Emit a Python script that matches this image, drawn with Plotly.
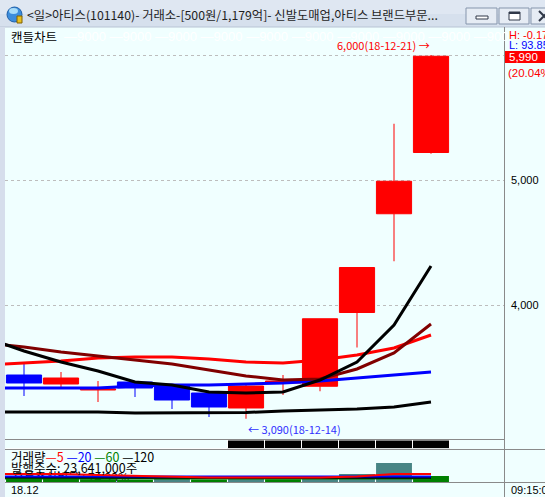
import plotly.graph_objects as go

W, H = 545, 497

# ---------------- data ----------------
dates = ["18-12-05", "18-12-06", "18-12-07", "18-12-10", "18-12-11", "18-12-12", "18-12-13",
         "18-12-14", "18-12-17", "18-12-18", "18-12-19", "18-12-20", "18-12-21"]
candle_dates = dates[1:]
opens  = [3440, 3368, 3320, 3384, 3360, 3296, 3176, 3376, 3350, 3940, 4730, 5220]
highs  = [3528, 3464, 3392, 3392, 3368, 3304, 3368, 3440, 3890, 4300, 5450, 6000]
lows   = [3272, 3344, 3224, 3264, 3168, 3104, 3090, 3280, 3310, 3660, 4350, 5210]
closes = [3376, 3416, 3328, 3336, 3240, 3184, 3352, 3392, 3890, 4300, 4990, 5990]

# price moving averages (one value per date, incl. the day before the first candle)
ma_black  = [3736, 3632, 3544, 3472, 3384, 3360, 3304, 3296, 3304, 3400, 3544, 3840, 4312]
ma_maroon = [3696, 3664, 3624, 3592, 3560, 3528, 3480, 3432, 3400, 3408, 3488, 3616, 3848]
ma_red    = [3520, 3536, 3552, 3576, 3584, 3584, 3568, 3544, 3536, 3560, 3600, 3656, 3760]
ma_blue   = [3336, 3336, 3336, 3336, 3352, 3360, 3360, 3368, 3376, 3392, 3416, 3440, 3464]
ma_low    = [3144, 3144, 3144, 3144, 3136, 3136, 3136, 3140, 3152, 3160, 3168, 3184, 3224]

# signal row (black band)
signal = [0, 0, 0, 0, 0, 0, 1, 1, 1, 1, 1, 1]

# volume
volume = [320000, 300000, 280000, 220000, 400000, 250000, 300000, 280000,
          600000, 800000, 1900000, 600000]
vma5   = [800000, 800000, 800000, 700000, 600000, 500000, 450000, 450000, 450000, 450000, 550000, 800000, 800000]
vma20  = [560000, 560000, 550000, 540000, 530000, 520000, 500000, 500000, 490000, 490000, 500000, 520000, 540000]
vma60  = [350000] * 13
vma120 = [460000, 460000, 460000, 455000, 450000, 450000, 450000, 445000, 440000, 430000, 420000, 420000, 420000]

price_ticks = [4000, 5000, 6000]
price_ticktext = ["4,000", "5,000", ""]

title_text = "&lt;일&gt;아티스(101140)- 거래소-[500원/1,179억]- 신발도매업,아티스 브랜드부문..."
shares_text = "발행주수: 23,641,000주"
float_text = "유통주식비율 : 74.93%"
last_price = closes[-1]
change_pct = (closes[-1] - closes[-2]) / closes[-2] * 100

# ---------------- helpers ----------------
def fx(px):
    return px / W

def fy(py):
    return 1 - py / H

FONT_K = "Noto Sans CJK KR"
FONT_N = "Liberation Sans"
RED, BLUE, MAROON, BLACK = "#FF0000", "#0000FF", "#800000", "#000000"
TEAL, GREEN = "#478585", "#008000"
BG = "#F0FFFF"
GRAY = "#8A8A8A"

fig = go.Figure()

# candles
fig.add_trace(go.Candlestick(
    x=candle_dates, open=opens, high=highs, low=lows, close=closes,
    increasing=dict(line=dict(color=RED, width=1), fillcolor=RED),
    decreasing=dict(line=dict(color=BLUE, width=1), fillcolor=BLUE),
    whiskerwidth=0, xaxis="x", yaxis="y", showlegend=False))

for vals, col in [(ma_low, BLACK), (ma_blue, BLUE), (ma_red, RED), (ma_maroon, MAROON), (ma_black, BLACK)]:
    fig.add_trace(go.Scatter(x=dates, y=vals, mode="lines", line=dict(color=col, width=3),
                             xaxis="x", yaxis="y", showlegend=False, hoverinfo="skip"))

# signal band
fig.add_trace(go.Bar(x=candle_dates, y=signal, width=1,
                     marker=dict(color=BLACK, line=dict(color="white", width=1)),
                     xaxis="x3", yaxis="y3", showlegend=False, hoverinfo="skip"))

# volume bars
vol_colors = [GREEN if i == 0 or volume[i] <= volume[i - 1] else TEAL for i in range(len(volume))]
fig.add_trace(go.Bar(x=candle_dates, y=volume, width=0.97,
                     marker=dict(color=vol_colors, line=dict(width=0)),
                     xaxis="x2", yaxis="y2", showlegend=False, hoverinfo="skip"))
for vals, col in [(vma60, GREEN), (vma120, BLACK), (vma20, BLUE), (vma5, RED)]:
    fig.add_trace(go.Scatter(x=dates, y=vals, mode="lines", line=dict(color=col, width=2),
                             xaxis="x2", yaxis="y2", showlegend=False, hoverinfo="skip"))

# ---------------- axes ----------------
xr = [1 - 19 / 37, 1 + 480 / 37]
xcommon = dict(type="category", categoryorder="array", categoryarray=dates, range=xr,
               showticklabels=False, showgrid=False, zeroline=False, showline=False,
               ticks="", domain=[fx(5), fx(504)], fixedrange=True)

fig.update_layout(
    width=W, height=H, margin=dict(l=0, r=0, t=0, b=0),
    paper_bgcolor=BG, plot_bgcolor="rgba(0,0,0,0)",
    showlegend=False, boxgap=0.05, boxgroupgap=0, bargap=0.03,
    xaxis=dict(**xcommon, anchor="y", rangeslider=dict(visible=False)),
    xaxis2=dict(**xcommon, anchor="y2", matches="x"),
    xaxis3=dict(**xcommon, anchor="y3", matches="x"),
    yaxis=dict(domain=[fy(439), fy(48)], range=[2928, 6056], side="right", anchor="x",
               tickvals=price_ticks, ticktext=price_ticktext, ticks="",
               ticklabelstandoff=6,
               tickfont=dict(family=FONT_N, size=11, color=BLACK),
               showgrid=True, griddash="dot", gridcolor="#BDBDBD", gridwidth=1,
               zeroline=False, showline=False, fixedrange=True),
    yaxis2=dict(domain=[fy(482), fy(449)], range=[0, 3300000], anchor="x2", visible=False,
                fixedrange=True),
    yaxis3=dict(domain=[fy(448.5), fy(440)], range=[0, 1], anchor="x3", visible=False,
                fixedrange=True),
)

# ---------------- shapes ----------------
shapes = []
def rect(x0, y0, x1, y1, fill, line=None, lw=0, layer="below"):
    shapes.append(dict(type="rect", xref="paper", yref="paper", x0=fx(x0), x1=fx(x1),
                       y0=fy(y1), y1=fy(y0), fillcolor=fill, layer=layer,
                       line=dict(color=line or fill, width=lw)))

def hline(y, x0, x1, col=GRAY, layer="above"):
    shapes.append(dict(type="line", xref="paper", yref="paper", x0=fx(x0), x1=fx(x1),
                       y0=fy(y), y1=fy(y), line=dict(color=col, width=1), layer=layer))

def vline(x, y0, y1, col=GRAY, layer="above"):
    shapes.append(dict(type="line", xref="paper", yref="paper", x0=fx(x), x1=fx(x),
                       y0=fy(y0), y1=fy(y1), line=dict(color=col, width=1), layer=layer))

# title bar
rect(0, 0, 545, 14, "#DFE7F2")
rect(0, 14, 545, 27, "#D6E0ED")
hline(27, 0, 545, "#B8C4D4", layer="below")
# left strip
rect(0, 27, 5, 497, "#D6DEEC")
# icon
shapes.append(dict(type="circle", xref="paper", yref="paper", x0=fx(7), x1=fx(22),
                   y0=fy(22), y1=fy(7), fillcolor="#3C8DDC", line=dict(color="#1F5FA8", width=1)))
shapes.append(dict(type="circle", xref="paper", yref="paper", x0=fx(9), x1=fx(18),
                   y0=fy(14), y1=fy(8), fillcolor="#A8DCF8", line=dict(width=0)))
rect(17, 16, 22, 23, "#E8C020", "#806000", 1, layer="above")
# window buttons
for bx0, bx1 in [(466, 497), (499, 529), (531, 562)]:
    rect(bx0, 8, bx1, 24, "#E6ECF4", "#8595AC", 1, layer="above")
rect(476, 16, 488, 19, "#FFFFFF", "#303848", 1, layer="above")
rect(509, 12, 520, 20, "#FFFFFF", "#303848", 1, layer="above")
rect(509, 12, 520, 14, "#303848", "#303848", 0, layer="above")
shapes.append(dict(type="path", xref="paper", yref="paper",
                   path=f"M{fx(539)},{fy(11)} L{fx(549)},{fy(21)} M{fx(539)},{fy(21)} L{fx(549)},{fy(11)}",
                   line=dict(color="#303848", width=2), layer="above"))
# panel borders
vline(504.5, 27, 497)
hline(439.5, 5, 504.5)
hline(449.5, 5, 545)
hline(482.5, 5, 545)
# last-price box
rect(505, 51, 545, 63, RED, layer="above")
# partly hidden third info line (drawn below the traces)
shapes.append(dict(type="rect", xref="paper", yref="paper", x0=fx(7), x1=fx(220),
                   y0=fy(485), y1=fy(471), layer="below", fillcolor="rgba(0,0,0,0)",
                   line=dict(width=0),
                   label=dict(text=float_text, textposition="middle left",
                              font=dict(family=FONT_K, size=12, color=BLACK))))
fig.update_layout(shapes=shapes)

# ---------------- annotations ----------------
ann = []
def txt(x, y, text, size=11, color=BLACK, family=FONT_N, anchor="left"):
    ann.append(dict(xref="paper", yref="paper", x=fx(x), y=fy(y), text=text, showarrow=False,
                    xanchor=anchor, yanchor="middle",
                    font=dict(family=family, size=size, color=color)))

txt(25, 15, title_text, 12.3, "#1E1E1E", FONT_K)
txt(9, 36, "캔들차트", 12.5, BLACK, FONT_K)
txt(62, 36, " ".join(["—9000"] * 11), 13, "#FFFFFF", FONT_N)
txt(507, 35, "H: -0.17", 11, RED)
txt(507, 45, "L: 93.85", 11, BLUE)
txt(507, 57, f"{last_price:,}", 11.5, "#FFFFFF")
txt(506, 73, f"({change_pct:.2f}%)", 11.5, RED)
txt(9, 456, "거래량<span style='color:#FF0000'>—5</span> <span style='color:#0000FF'>—20</span> "
             "<span style='color:#008000'>—60</span> <span style='color:#000000'>—120</span>",
    12.5, BLACK, FONT_K)
txt(9, 467, shares_text, 12.5, BLACK, FONT_K)
txt(9, 490, "18.12", 11, BLACK)
txt(509, 490, "09:15:00", 11, BLACK)

imax = highs.index(max(highs))
imin = lows.index(min(lows))
ann.append(dict(xref="x", yref="y", x=candle_dates[imax], y=highs[imax],
                text=f"{highs[imax]:,}(18-{candle_dates[imax][3:]}) →", showarrow=False,
                xanchor="right", yanchor="bottom", xshift=1,
                font=dict(family=FONT_K, size=11, color=RED)))
ann.append(dict(xref="x", yref="y", x=candle_dates[imin], y=lows[imin],
                text=f"← {lows[imin]:,}(18-{candle_dates[imin][3:]})", showarrow=False,
                xanchor="left", yanchor="top",
                font=dict(family=FONT_K, size=11, color="#3030FF")))
fig.update_layout(annotations=ann)

fig.write_html("out.html", config={"displayModeBar": False},
               post_script="document.body.style.margin='0';document.body.style.padding='0';"
                           "document.body.style.overflow='hidden';")
